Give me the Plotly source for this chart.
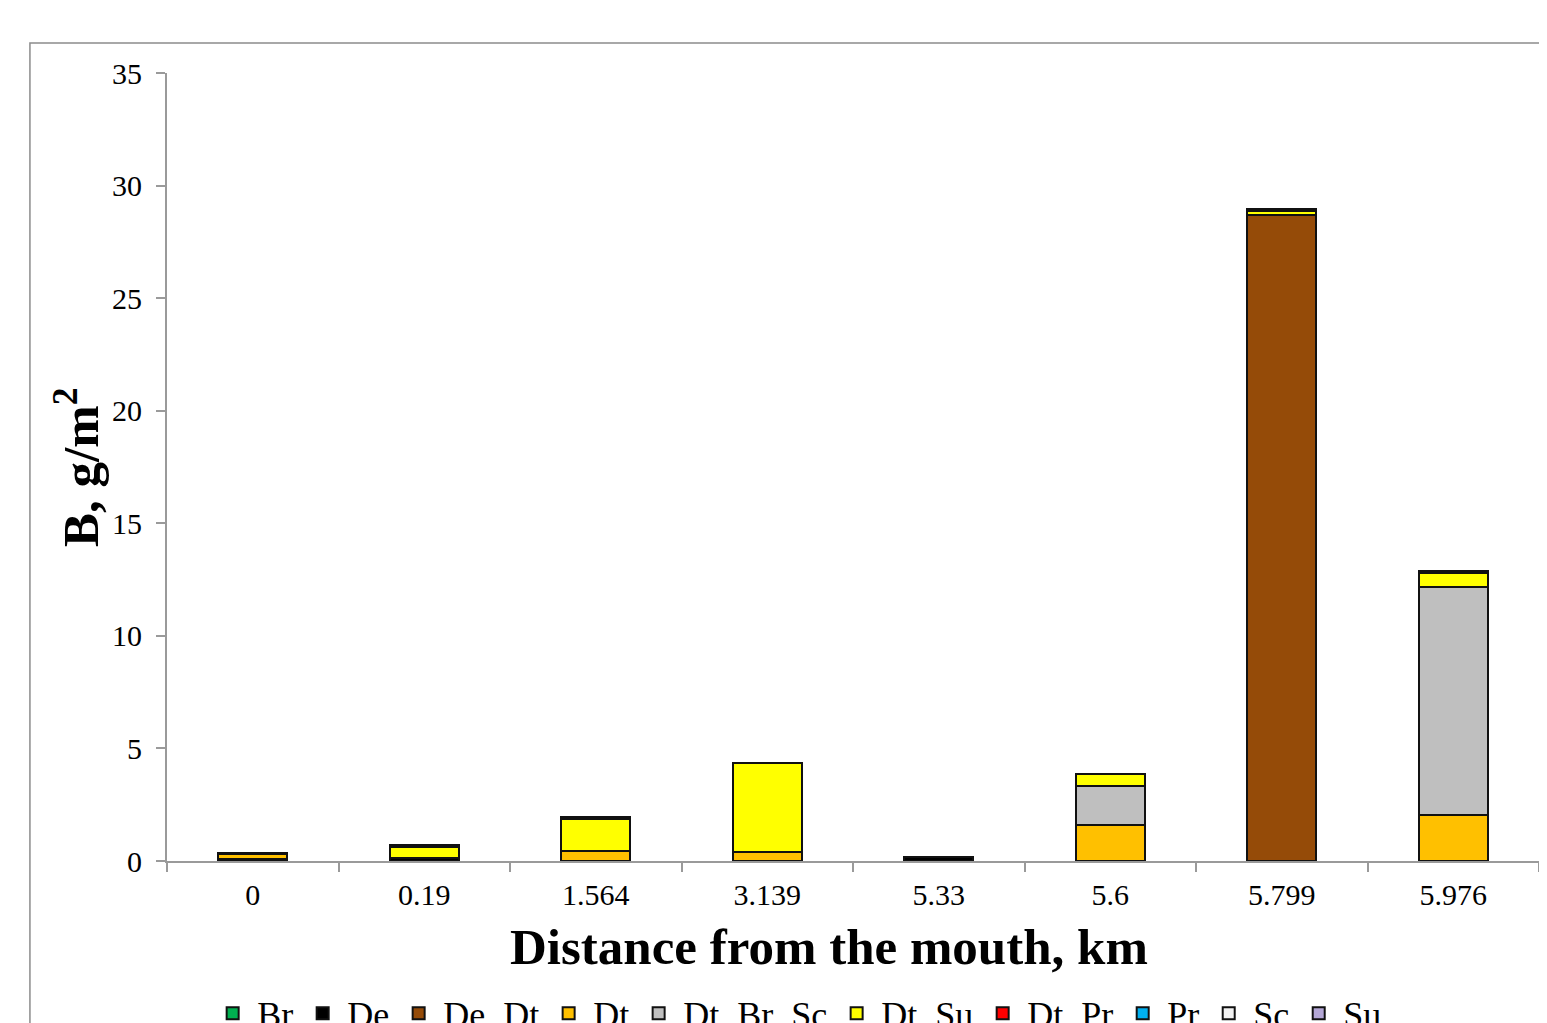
import plotly.graph_objects as go

categories = ["0", "0.19", "1.564", "3.139", "5.33", "5.6", "5.799", "5.976"]

series_names = ["Br", "De", "De_Dt", "Dt", "Dt_Br_Sc", "Dt_Su", "Dt_Pr", "Pr", "Sc", "Su"]
series_colors = ["#00B050", "#000000", "#954B08", "#FFC000", "#BFBFBF",
                 "#FFFF00", "#FF0000", "#00B0F0", "#F2F2F2", "#B4A7D6"]

Br = [0, 0, 0, 0, 0, 0, 0, 0]
De = [0.08, 0.12, 0, 0, 0.17, 0, 0, 0]
De_Dt = [0, 0, 0, 0, 0, 0, 28.7, 0]
Dt = [0.22, 0, 0.45, 0.41, 0, 1.6, 0, 2.04]
Dt_Br_Sc = [0, 0, 0, 0, 0, 1.73, 0, 10.15]
Dt_Su = [0, 0.5, 1.4, 3.95, 0, 0.53, 0.17, 0.6]
Dt_Pr = [0, 0, 0, 0, 0, 0, 0, 0]
Pr = [0, 0, 0, 0, 0, 0, 0, 0]
Sc = [0.05, 0.1, 0.1, 0, 0, 0, 0.1, 0.08]
Su = [0, 0, 0, 0, 0, 0, 0, 0]

series_values = [Br, De, De_Dt, Dt, Dt_Br_Sc, Dt_Su, Dt_Pr, Pr, Sc, Su]

x_title = "Distance from the mouth, km"
y_title = "B, g/m<sup>2</sup>"

fig = go.Figure()
for name, color, vals in zip(series_names, series_colors, series_values):
    fig.add_trace(go.Bar(
        x=categories, y=vals, name=name,
        marker=dict(color=color, line=dict(color="#111111", width=2)),
    ))

font_family = "Liberation Serif"
axis_gray = "#9a9a9a"

fig.update_layout(
    barmode="stack",
    bargap=0.6,
    width=1539, height=1015,
    margin=dict(l=159, r=8, t=65, b=162, autoexpand=False),
    paper_bgcolor="white",
    plot_bgcolor="white",
    font=dict(family=font_family, color="black", size=30),
    showlegend=True,
    legend=dict(
        orientation="h", x=0.030, xanchor="left",
        yref="container", y=0.039, yanchor="top",
        font=dict(family=font_family, size=36, color="black"),
        traceorder="normal", itemwidth=39, tracegroupgap=0,
        bgcolor="rgba(0,0,0,0)",
    ),
    xaxis=dict(
        type="category", automargin=False,
        showline=True, linecolor=axis_gray, linewidth=2,
        ticks="outside", ticklen=9, tickcolor=axis_gray, tickwidth=2,
        tickson="boundaries", ticklabelstandoff=6,
        tickfont=dict(family=font_family, size=30, color="black"),
        showgrid=False,
    ),
    yaxis=dict(
        range=[0, 35], dtick=5, automargin=False,
        showline=True, linecolor=axis_gray, linewidth=2,
        ticks="outside", ticklen=9, tickcolor=axis_gray, tickwidth=2,
        ticklabelstandoff=8,
        tickfont=dict(family=font_family, size=30, color="black"),
        showgrid=False, zeroline=False,
    ),
    annotations=[
        dict(text="<b>" + x_title + "</b>", xref="paper", yref="paper",
             x=0.4825, y=-0.109, xanchor="center", yanchor="middle",
             showarrow=False,
             font=dict(family=font_family, size=51, color="black")),
        dict(text="<b>" + y_title + "</b>", xref="paper", yref="paper",
             x=-0.0656, y=0.5, xanchor="center", yanchor="middle",
             textangle=-90, showarrow=False,
             font=dict(family=font_family, size=51, color="black")),
    ],
    shapes=[dict(
        type="rect", xref="paper", yref="paper",
        x0=-0.0999, x1=1.05, y0=-0.4, y1=1.038,
        line=dict(color="#8c8c8c", width=1.5), fillcolor="rgba(0,0,0,0)",
        layer="below",
    )],
)

fig.write_html("out.html")
